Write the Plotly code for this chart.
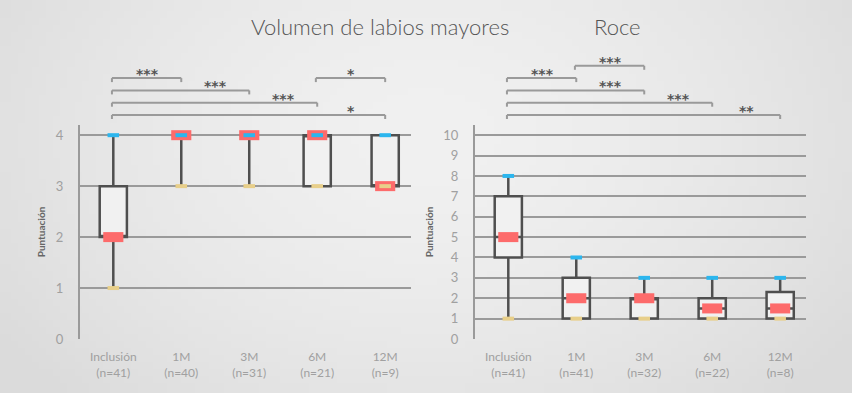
import base64, struct, zlib
import numpy as np
import plotly.graph_objects as go

# ---------------- data ----------------
categories = ["Inclusión", "1M", "3M", "6M", "12M"]
n_left = [41, 40, 31, 21, 9]
n_right = [41, 41, 32, 22, 8]

vol_min = [1, 3, 3, 3, 3]
vol_q1 = [2, 4, 4, 3, 3]
vol_median = [2, 4, 4, 4, 3]
vol_q3 = [3, 4, 4, 4, 4]
vol_max = [4, 4, 4, 4, 4]

roce_min = [1, 1, 1, 1, 1]
roce_q1 = [4, 1, 1, 1, 1]
roce_median = [5, 2, 2, 1.5, 1.5]
roce_q3 = [7, 3, 2, 2, 2.3]
roce_max = [8, 4, 3, 3, 3]

# significance brackets: (from, to, label, level)
vol_sig = [(0, 4, "*", 0), (0, 3, "***", 1), (0, 2, "***", 2), (0, 1, "***", 3), (3, 4, "*", 3)]
roce_sig = [(0, 4, "**", 0), (0, 3, "***", 1), (0, 2, "***", 2), (0, 1, "***", 3), (1, 2, "***", 4)]

vol_ticks = [0, 1, 2, 3, 4]
roce_ticks = list(range(0, 11))

# ---------------- styling ----------------
W, H = 852, 393
GRID = "#9a9a9a"
BOXLINE = "#4f4f4f"
BOXFILL = "#f1f1f1"
RED = "#fd6b6b"
BLUE = "#2cb6ee"
YELLOW = "#e8cf8a"
FONT = "Lato"

dom_left = [80 / W, 411 / W]
dom_right = [475 / W, 806 / W]
dom_y = [(H - 339) / H, (H - 125) / H]
xrange = [-0.49, 4.38]


def bg_png(w=120, h=56):
    yy, xx = np.mgrid[0:h, 0:w]
    cx, cy = (w - 1) / 2, (h - 1) * 0.35
    d = np.sqrt(((xx - cx) / (w / 2)) ** 2 + ((yy - cy) / (h / 1.3)) ** 2)
    v = 241 - 16 * np.clip(d, 0, 1.2) ** 1.6
    v = np.clip(v, 0, 255).astype(np.uint8)
    raw = b"".join(b"\x00" + bytes(np.repeat(row, 3)) for row in v)

    def chunk(t, data):
        c = struct.pack(">I", len(data)) + t + data
        return c + struct.pack(">I", zlib.crc32(t + data) & 0xffffffff)

    png = b"\x89PNG\r\n\x1a\n" + chunk(b"IHDR", struct.pack(">IIBBBBB", w, h, 8, 2, 0, 0, 0))
    png += chunk(b"IDAT", zlib.compress(raw)) + chunk(b"IEND", b"")
    return "data:image/png;base64," + base64.b64encode(png).decode()


fig = go.Figure()


def add_panel(xa, ya, mins, q1s, meds, q3s, maxs):
    for i in range(len(categories)):
        degenerate = q1s[i] == q3s[i]
        fig.add_trace(go.Box(
            x=[i], q1=[q1s[i]], median=[meds[i]], q3=[q3s[i]],
            lowerfence=[mins[i]], upperfence=[maxs[i]],
            width=0.28 if degenerate else 0.4, whiskerwidth=0,
            fillcolor=BOXFILL, line=dict(color=BOXLINE, width=2.5),
            xaxis=xa, yaxis=ya, showlegend=False, hoverinfo="skip",
        ))
    # medians (red)
    for i in range(len(categories)):
        fig.add_trace(go.Scatter(
            x=[i - 0.148, i + 0.148], y=[meds[i], meds[i]], mode="lines",
            line=dict(color=RED, width=10), xaxis=xa, yaxis=ya,
            showlegend=False, hoverinfo="skip"))
    # max (blue) & min (yellow)
    for vals, col in ((maxs, BLUE), (mins, YELLOW)):
        for i in range(len(categories)):
            fig.add_trace(go.Scatter(
                x=[i - 0.085, i + 0.085], y=[vals[i], vals[i]], mode="lines",
                line=dict(color=col, width=4), xaxis=xa, yaxis=ya,
                showlegend=False, hoverinfo="skip"))


add_panel("x", "y", vol_min, vol_q1, vol_median, vol_q3, vol_max)
add_panel("x2", "y2", roce_min, roce_q1, roce_median, roce_q3, roce_max)

shapes = []
annotations = []


def add_brackets(xref, sig):
    for a, b, lab, lvl in sig:
        ypx = 115 - lvl * 12.3
        yp = (H - ypx) / H
        tick = 4 / H
        for (x0, y0, x1, y1) in ((a - 0.02, yp, b, yp), (a - 0.02, yp, a - 0.02, yp - tick), (b, yp, b, yp - tick)):
            shapes.append(dict(type="line", xref=xref, yref="paper", x0=x0, y0=y0, x1=x1, y1=y1,
                               line=dict(color=GRID, width=2)))
        annotations.append(dict(xref=xref, yref="paper", x=b - 0.5, y=yp - 6 / H,
                                text="<b>" + lab + "</b>", showarrow=False,
                                yanchor="bottom", font=dict(family="DejaVu Sans", size=14, color="#555555")))


add_brackets("x", vol_sig)
add_brackets("x2", roce_sig)

annotations.append(dict(xref="paper", yref="paper", x=249 / W, y=(H - 26) / H, yanchor="middle",
                        text="Volumen de labios mayores", showarrow=False,
                        font=dict(family=FONT, size=22, color="#555555", weight=300)))
annotations.append(dict(xref="paper", yref="paper", x=643 / W, y=(H - 26) / H, yanchor="middle",
                        text="Roce", showarrow=False,
                        font=dict(family=FONT, size=22, color="#555555", weight=300)))

ticktext_l = [f"{c}<br>(n={n})" for c, n in zip(categories, n_left)]
ticktext_r = [f"{c}<br>(n={n})" for c, n in zip(categories, n_right)]

xcommon = dict(range=xrange, tickmode="array", tickvals=list(range(len(categories))),
               showgrid=False, zeroline=False, showline=False, ticks="outside",
               ticklen=7, tickcolor="rgba(0,0,0,0)", automargin=False,
               tickfont=dict(family=FONT, size=12, color="#a0a0a0"))
ycommon = dict(tickmode="array", showgrid=True, gridcolor=GRID, gridwidth=2,
               zeroline=False, showline=True, linecolor=GRID, linewidth=2,
               ticks="outside", ticklen=12, tickcolor="rgba(0,0,0,0)", automargin=False,
               tickfont=dict(family=FONT, size=13, color="#a0a0a0"),
               title=dict(text="<b>Puntuación</b>", standoff=8,
                          font=dict(family=FONT, size=10, color="#666666")))

fig.update_layout(
    autosize=True, margin=dict(l=0, r=0, t=0, b=0, autoexpand=False),
    paper_bgcolor="#ebebeb", plot_bgcolor="rgba(0,0,0,0)",
    boxmode="overlay", showlegend=False,
    xaxis=dict(domain=dom_left, anchor="y", ticktext=ticktext_l, **xcommon),
    xaxis2=dict(domain=dom_right, anchor="y2", ticktext=ticktext_r, **xcommon),
    yaxis=dict(domain=dom_y, anchor="x", range=[0, 4.2], tickvals=vol_ticks, **ycommon),
    yaxis2=dict(domain=dom_y, anchor="x2", range=[0, 10.5], tickvals=roce_ticks, **ycommon),
    shapes=shapes, annotations=annotations,
    images=[dict(source=bg_png(), xref="paper", yref="paper", x=0, y=1, sizex=1, sizey=1,
                 sizing="stretch", layer="below", xanchor="left", yanchor="top")],
)

fig.write_html(
    "out.html",
    config={"displayModeBar": False, "responsive": False},
    default_width=f"{W}px",
    default_height=f"{H}px; position:absolute; left:0px; top:0px",
    post_script="document.body.style.margin='0';document.body.style.overflow='hidden';",
)
